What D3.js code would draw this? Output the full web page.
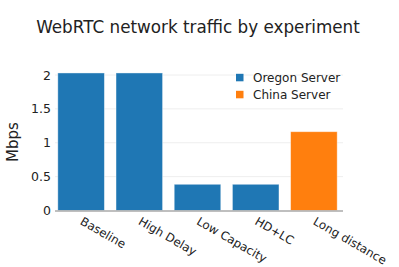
<!DOCTYPE html>
<html>
<head>
<meta charset="utf-8">
<script src="https://cdn.jsdelivr.net/npm/d3@7"></script>
<style>
  body { margin: 0; background: #fff; }
  svg { font-family: "DejaVu Sans", Verdana, sans-serif; }
</style>
</head>
<body>
<div id="chart"></div>
<script>
const experiments = ["Baseline", "High Delay", "Low Capacity", "HD+LC", "Long distance"];
const servers = ["Oregon Server", "Oregon Server", "Oregon Server", "Oregon Server", "China Server"];
const mbps = [2.03, 2.03, 0.387, 0.387, 1.163];
const yTicks = [0, 0.5, 1, 1.5, 2];
const legendNames = ["Oregon Server", "China Server"];
const legendColors = ["#1f77b4", "#ff7f0e"];

const svg = d3.select("#chart")
    .append("svg")
    .attr("width", 399)
    .attr("height", 267);

const x = d3.scaleBand()
    .domain(experiments)
    .range([52, 343])
    .paddingInner(0.2)
    .paddingOuter(0.1);

const y = d3.scaleLinear()
    .domain([0, 2])
    .range([210.5, 75]);

const color = d3.scaleOrdinal().domain(legendNames).range(legendColors);

// gridlines
svg.append("g")
    .selectAll("line")
    .data(yTicks.slice(1))
    .join("line")
    .attr("x1", 55)
    .attr("x2", 343)
    .attr("y1", d => y(d))
    .attr("y2", d => y(d))
    .attr("stroke", "#eee")
    .attr("stroke-width", 1);

// bars
svg.append("g")
    .selectAll("rect")
    .data(experiments)
    .join("rect")
    .attr("x", d => x(d))
    .attr("y", (d, i) => y(mbps[i]))
    .attr("width", x.bandwidth())
    .attr("height", (d, i) => y(0) - y(mbps[i]))
    .attr("fill", (d, i) => color(servers[i]))
    .attr("stroke", "rgba(255,255,255,0.5)")
    .attr("stroke-width", 0.8);

// x axis line
svg.append("line")
    .attr("x1", 55)
    .attr("x2", 343)
    .attr("y1", y(0) + 0.5)
    .attr("y2", y(0) + 0.5)
    .attr("stroke", "#aaa")
    .attr("stroke-width", 1.5);

// y tick labels
svg.append("g")
    .selectAll("text")
    .data(yTicks)
    .join("text")
    .attr("x", 51)
    .attr("y", d => y(d) + 4.5)
    .attr("text-anchor", "end")
    .style("font-size", "12.5px")
    .attr("fill", "#222")
    .text(d => d);

// x tick labels
svg.append("g")
    .selectAll("text")
    .data(experiments)
    .join("text")
    .attr("transform", d => `translate(${x(d) + x.bandwidth() / 2 + 3},${y(0) + 5}) rotate(30)`)
    .attr("text-anchor", "start")
    .attr("dy", "0.8em")
    .style("font-size", "11.8px")
    .attr("fill", "#222")
    .text(d => d);

// y axis title
svg.append("text")
    .attr("transform", "translate(18,142) rotate(-90)")
    .attr("text-anchor", "middle")
    .style("font-size", "15px")
    .attr("fill", "#222")
    .text("Mbps");

// title
svg.append("text")
    .attr("x", 198)
    .attr("y", 33)
    .attr("text-anchor", "middle")
    .style("font-size", "16.8px")
    .attr("fill", "#222")
    .text("WebRTC network traffic by experiment");

// legend
const legend = svg.append("g")
    .selectAll("g")
    .data(legendNames)
    .join("g")
    .attr("transform", (d, i) => `translate(236,${77.3 + i * 17})`);

legend.append("rect")
    .attr("x", 0)
    .attr("y", -3.5)
    .attr("width", 7.5)
    .attr("height", 7.5)
    .attr("fill", d => color(d));

legend.append("text")
    .attr("x", 17)
    .attr("y", 4.5)
    .style("font-size", "12px")
    .attr("fill", "#222")
    .text(d => d);
</script>
</body>
</html>
